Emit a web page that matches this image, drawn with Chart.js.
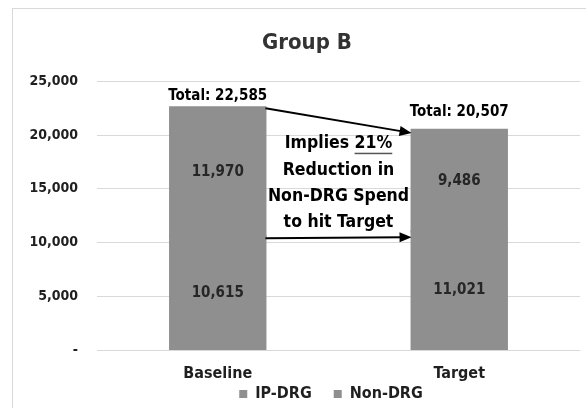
<!DOCTYPE html>
<html lang="en">
<head>
    <meta charset="UTF-8">
    <title>Group B</title>
    <script src="https://cdn.jsdelivr.net/npm/chart.js"></script>
    <style>
        body { margin: 0; background: #fff; overflow: hidden; }
        #wrap { position: relative; width: 586px; height: 408px; overflow: hidden; }
        #frame { position: absolute; left: 12px; top: 8px; width: 600px; height: 420px; border: 1px solid #d9d9d9; }
    </style>
</head>
<body>
    <div id="wrap">
        <div id="frame"></div>
        <canvas id="groupChart" width="586" height="408"></canvas>
    </div>

    <script>
        // Données
        var categories = ['Baseline', 'Target'];
        var ipDrg = [10615, 11021];
        var nonDrg = [11970, 9486];
        var seriesNames = ['IP-DRG', 'Non-DRG'];
        var yTicks = [0, 5000, 10000, 15000, 20000, 25000];
        var noteLines = ['Implies 21%', 'Reduction in', 'Non-DRG Spend', 'to hit Target'];
        // flèches : valeurs de départ / arrivée sur l'axe y
        var arrowTop = [22500, 20200];
        var arrowBottom = [10400, 10500];

        var fontFam = "'DejaVu Sans Condensed', 'Liberation Sans', sans-serif";
        var barGray = '#8f8f8f';
        var dark = '#1f1f1f';

        function fmt(v) {
            return v === 0 ? '-' : v.toLocaleString('en-US');
        }

        // Étiquettes dans les barres + totaux + flèches
        var labelsPlugin = {
            id: 'labelsPlugin',
            afterDatasetsDraw: function (chart) {
                var ctx = chart.ctx;
                var ys = chart.scales.y;
                ctx.save();
                ctx.textAlign = 'center';
                ctx.textBaseline = 'middle';
                ctx.font = 'bold 15px ' + fontFam;
                ctx.fillStyle = '#262626';
                chart.data.datasets.forEach(function (ds, i) {
                    chart.getDatasetMeta(i).data.forEach(function (bar, j) {
                        ctx.fillText(fmt(ds.data[j]), bar.x, (bar.y + bar.base) / 2);
                    });
                });

                // Totaux
                ctx.font = 'bold 15px ' + fontFam;
                ctx.fillStyle = '#000';
                var topMeta = chart.getDatasetMeta(1).data;
                var gap = [11, 18];
                topMeta.forEach(function (bar, j) {
                    var total = ipDrg[j] + nonDrg[j];
                    ctx.fillText('Total: ' + fmt(total), bar.x, bar.y - gap[j]);
                });

                // Flèches
                var b0 = topMeta[0], b1 = topMeta[1];
                var x0 = b0.x + b0.width / 2, x1 = b1.x - b1.width / 2;
                function arrow(yA, yB) {
                    var ya = ys.getPixelForValue(yA), yb = ys.getPixelForValue(yB);
                    var ang = Math.atan2(yb - ya, x1 - x0);
                    var c = Math.cos(ang), s = Math.sin(ang);
                    ctx.strokeStyle = '#000';
                    ctx.fillStyle = '#000';
                    ctx.lineWidth = 2;
                    ctx.beginPath();
                    ctx.moveTo(x0, ya);
                    ctx.lineTo(x1 - 8 * c, yb - 8 * s);
                    ctx.stroke();
                    ctx.beginPath();
                    ctx.moveTo(x1, yb);
                    ctx.lineTo(x1 - 12 * c + 5 * s, yb - 12 * s - 5 * c);
                    ctx.lineTo(x1 - 12 * c - 5 * s, yb - 12 * s + 5 * c);
                    ctx.closePath();
                    ctx.fill();
                }
                arrow(arrowTop[0], arrowTop[1]);
                arrow(arrowBottom[0], arrowBottom[1]);

                // Texte central
                var cx = (x0 + x1) / 2;
                ctx.font = 'bold 17.5px ' + fontFam;
                ctx.fillStyle = '#000';
                var y0 = ys.getPixelForValue(19200);
                noteLines.forEach(function (line, k) {
                    ctx.fillText(line, cx, y0 + k * 26.4);
                });
                // soulignement de "21%"
                var full = ctx.measureText(noteLines[0]).width;
                var part = ctx.measureText('Implies ').width;
                var pct = ctx.measureText('21%').width;
                ctx.fillStyle = '#555';
                ctx.fillRect(cx - full / 2 + part, y0 + 9, pct, 1.5);
                ctx.restore();
            }
        };

        var chartData = {
            labels: categories,
            datasets: [{
                label: seriesNames[0],
                data: ipDrg,
                backgroundColor: barGray,
                inflateAmount: 1
            }, {
                label: seriesNames[1],
                data: nonDrg,
                backgroundColor: barGray,
                inflateAmount: 1
            }]
        };

        var chartConfig = {
            type: 'bar',
            data: chartData,
            plugins: [labelsPlugin],
            options: {
                responsive: false,
                animation: false,
                barPercentage: 0.79,
                categoryPercentage: 0.5,
                layout: { padding: { left: 20, right: 6, top: 8, bottom: 0 } },
                plugins: {
                    title: {
                        display: true,
                        text: '  Group B',
                        color: '#333',
                        font: { family: fontFam, size: 22, weight: 'bold' },
                        padding: { top: 22, bottom: 25 }
                    },
                    legend: {
                        position: 'bottom',
                        fullSize: false,
                        maxHeight: 24,
                        labels: {
                            boxWidth: 8,
                            boxHeight: 8,
                            padding: 2,
                            color: dark,
                            font: { family: fontFam, size: 16, weight: 'bold' },
                            generateLabels: function (chart) {
                                var items = Chart.defaults.plugins.legend.labels.generateLabels(chart);
                                // espace entre les deux entrées
                                items[0].text = items[0].text + '    ';
                                items[1].text = items[1].text + '   ';
                                return items;
                            }
                        }
                    },
                    tooltip: { enabled: false }
                },
                scales: {
                    x: {
                        stacked: true,
                        afterFit: function (scale) { scale.height = 34; },
                        grid: { display: false, drawTicks: false },
                        border: { display: false },
                        ticks: {
                            padding: 14,
                            color: dark,
                            font: { family: fontFam, size: 16, weight: 'bold' }
                        }
                    },
                    y: {
                        stacked: true,
                        min: 0,
                        max: 25000,
                        afterBuildTicks: function (scale) {
                            scale.ticks = yTicks.map(function (v) { return { value: v }; });
                        },
                        afterFit: function (scale) { scale.width = 77; },
                        grid: { color: '#d9d9d9', drawTicks: false },
                        border: { display: false },
                        ticks: {
                            padding: 19,
                            color: dark,
                            font: { family: fontFam, size: 14, weight: 'bold' },
                            callback: function (v) { return fmt(v); }
                        }
                    }
                }
            }
        };

        var groupChart = new Chart(document.getElementById('groupChart'), chartConfig);
    </script>
</body>
</html>
